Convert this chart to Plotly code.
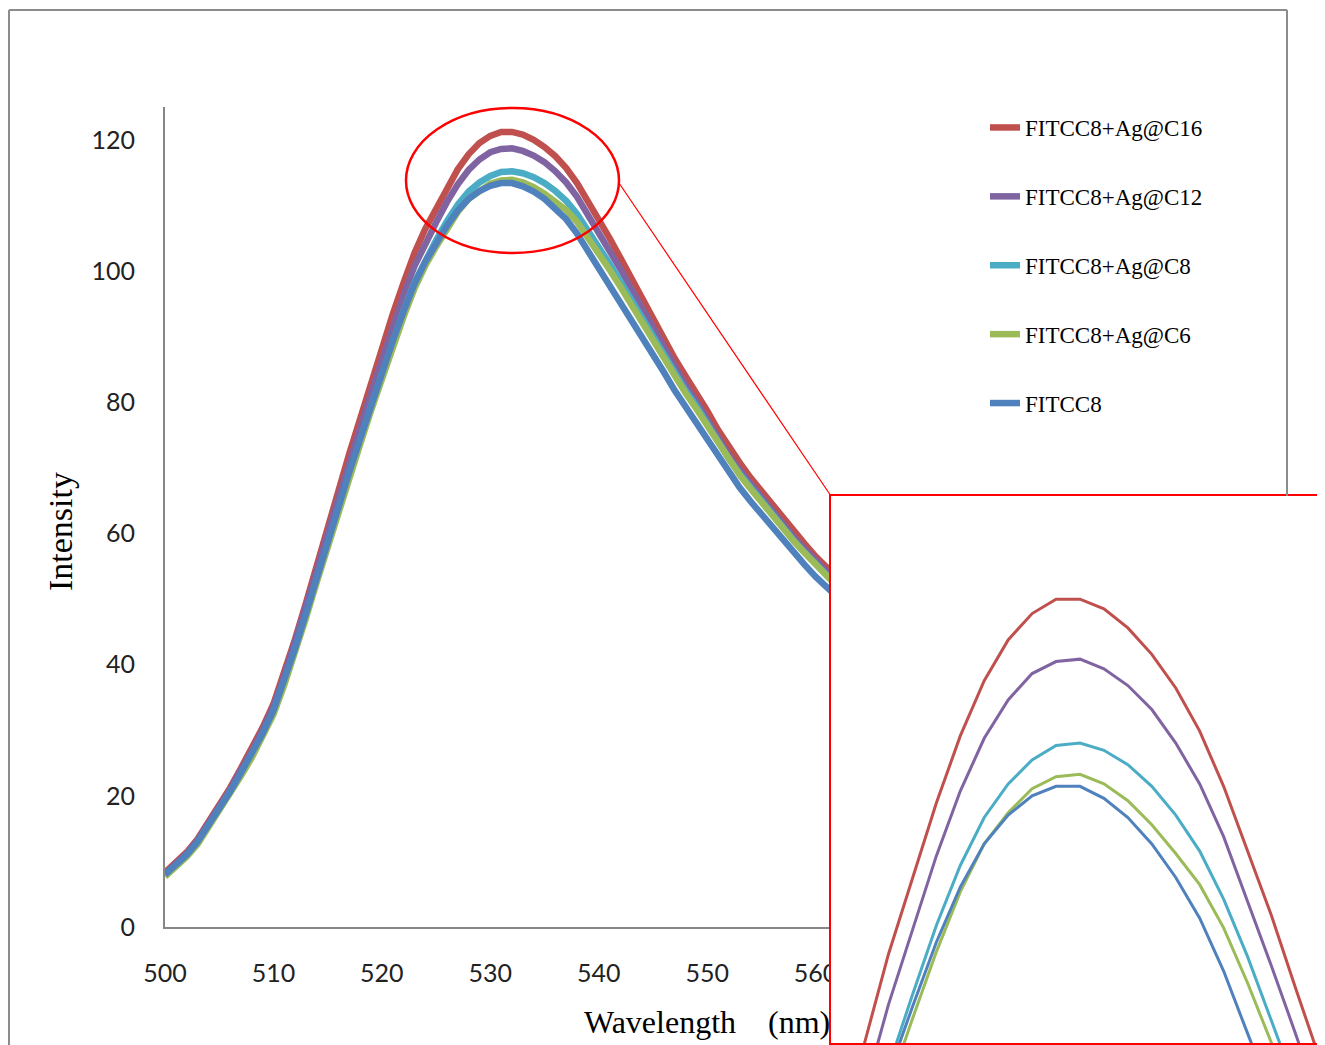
import plotly.graph_objects as go

# ---------------- data ----------------
wavelength = list(range(500, 571))

fitcc8_ag_c16 = [8.3, 9.8, 11.4, 13.4, 16.0, 18.5, 21.2, 24.2, 27.1, 30.4,
                 34.0, 38.7, 43.9, 49.4, 55.2, 61.0, 66.7, 72.2, 77.5, 82.9,
                 88.1, 93.4, 98.2, 102.7, 106.4, 109.6, 112.7, 115.5, 117.8, 119.5,
                 120.6, 121.2, 121.2, 120.8, 120.0, 118.9, 117.5, 115.7, 113.4, 110.7,
                 108.0, 105.0, 102.0, 98.9, 95.9, 92.9, 89.8, 86.7, 84.0, 81.5,
                 78.7, 75.8, 73.1, 70.8, 68.5, 66.4, 64.3, 62.2, 60.2, 58.4,
                 56.5, 54.8, 53.1, 51.6, 50.0, 48.6, 47.1, 45.7, 44.3, 43.0, 41.7]

fitcc8_ag_c12 = [8.1, 9.6, 11.2, 13.2, 15.7, 18.3, 20.9, 23.9, 26.7, 30.0,
                 33.6, 38.2, 43.3, 48.7, 54.3, 60.0, 65.5, 70.9, 76.1, 81.4,
                 86.4, 91.6, 96.3, 100.7, 104.3, 107.4, 110.5, 113.2, 115.4, 117.0,
                 118.1, 118.6, 118.7, 118.3, 117.6, 116.6, 115.2, 113.5, 111.3, 108.6,
                 105.9, 103.1, 100.3, 97.3, 94.4, 91.5, 88.4, 85.3, 82.6, 80.1,
                 77.3, 74.5, 71.9, 69.6, 67.5, 65.4, 63.4, 61.4, 59.4, 57.6,
                 55.8, 54.1, 52.5, 51.0, 49.4, 48.0, 46.6, 45.1, 43.8, 42.5, 41.2]

fitcc8_ag_c8 = [7.8, 9.3, 10.8, 12.8, 15.3, 17.8, 20.3, 23.2, 26.0, 29.2,
                32.7, 37.2, 42.2, 47.5, 53.0, 58.5, 63.9, 69.2, 74.2, 79.4,
                84.3, 89.3, 93.9, 98.2, 101.7, 104.7, 107.6, 110.1, 112.1, 113.5,
                114.5, 115.1, 115.2, 114.9, 114.3, 113.4, 112.2, 110.7, 108.7, 106.3,
                103.7, 101.1, 98.4, 95.6, 92.9, 90.2, 87.3, 84.4, 81.8, 79.4,
                76.7, 73.9, 71.4, 69.1, 67.0, 64.9, 62.9, 60.9, 58.9, 57.1,
                55.3, 53.7, 52.0, 50.5, 49.0, 47.5, 46.1, 44.7, 43.3, 42.0, 40.8]

fitcc8_ag_c6 = [7.7, 9.2, 10.7, 12.6, 15.1, 17.6, 20.1, 23.0, 25.8, 28.9,
                32.4, 36.9, 41.8, 47.1, 52.6, 58.0, 63.4, 68.6, 73.6, 78.7,
                83.5, 88.5, 93.0, 97.3, 100.8, 103.7, 106.5, 109.0, 111.0, 112.3,
                113.3, 113.8, 113.9, 113.5, 112.8, 111.8, 110.6, 109.3, 107.5, 105.2,
                102.7, 100.2, 97.6, 94.9, 92.3, 89.6, 86.8, 83.9, 81.4, 79.0,
                76.4, 73.7, 71.1, 68.9, 66.8, 64.7, 62.7, 60.7, 58.8, 57.0,
                55.2, 53.5, 51.9, 50.4, 48.9, 47.4, 46.0, 44.6, 43.3, 41.9, 40.7]

fitcc8 = [8.0, 9.5, 11.0, 13.0, 15.5, 18.0, 20.6, 23.5, 26.3, 29.5,
          33.0, 37.5, 42.5, 47.8, 53.3, 58.8, 64.2, 69.4, 74.4, 79.5,
          84.3, 89.3, 93.8, 98.0, 101.4, 104.2, 106.9, 109.2, 111.0, 112.2,
          113.0, 113.4, 113.4, 112.9, 112.1, 111.0, 109.6, 107.9, 105.7, 103.1,
          100.5, 97.9, 95.3, 92.6, 90.0, 87.4, 84.6, 81.8, 79.3, 77.0,
          74.4, 71.7, 69.2, 67.0, 64.9, 62.9, 60.9, 58.9, 57.0, 55.2,
          53.4, 51.8, 50.2, 48.7, 47.2, 45.8, 44.4, 43.0, 41.7, 40.4, 39.2]

series_names = ["FITCC8+Ag@C16", "FITCC8+Ag@C12", "FITCC8+Ag@C8", "FITCC8+Ag@C6", "FITCC8"]
series_values = [fitcc8_ag_c16, fitcc8_ag_c12, fitcc8_ag_c8, fitcc8_ag_c6, fitcc8]
series_colors = ["#C0504D", "#8064A2", "#4BACC6", "#9BBB59", "#4F81BD"]

x_ticks = [500, 510, 520, 530, 540, 550, 560, 570]
y_ticks = [0, 20, 40, 60, 80, 100, 120]

# ---------------- figure ----------------
W, H = 1325, 1045
OFF = 8  # the page body adds an 8px margin


def fx(p):
    return (p - OFF) / W


def fy(p):
    return 1 - (p - OFF) / H


fig = go.Figure()

for name, vals, col in zip(series_names, series_values, series_colors):
    fig.add_trace(go.Scatter(
        x=wavelength, y=vals, mode="lines", name=name, legendgroup=name,
        line=dict(color=col, width=6.5), xaxis="x", yaxis="y"))

for name, vals, col in zip(series_names, series_values, series_colors):
    fig.add_trace(go.Scatter(
        x=wavelength, y=vals, mode="lines", name=name, showlegend=False,
        line=dict(color=col, width=3), xaxis="x2", yaxis="y2", hoverinfo="skip"))

tick_font = dict(family="Lato, Open Sans, sans-serif", size=25, color="#222222")
serif = "Liberation Serif, Times New Roman, serif"

fig.update_layout(
    width=W, height=H,
    margin=dict(l=0, r=0, t=0, b=0, pad=0),
    paper_bgcolor="white", plot_bgcolor="white",
    showlegend=True,
    xaxis=dict(domain=[fx(165), fx(924)], range=[500, 570], anchor="y",
               tickvals=x_ticks, ticks="", showgrid=False, zeroline=False,
               showline=True, linecolor="#868686", linewidth=2,
               tickfont=tick_font, ticklabelstandoff=23, automargin=False),
    yaxis=dict(domain=[fy(927), fy(107)], range=[0, 125], anchor="x",
               tickvals=y_ticks, ticks="", showgrid=False, zeroline=False,
               showline=True, linecolor="#868686", linewidth=2,
               tickfont=tick_font, ticklabelstandoff=23, automargin=False),
    xaxis2=dict(domain=[fx(831), fx(1317)], range=[521.6, 541.9], anchor="y2",
                showticklabels=False, ticks="", showgrid=False, zeroline=False,
                showline=True, mirror=True, linecolor="#FF0000", linewidth=2),
    yaxis2=dict(domain=[fy(1043), fy(496)], range=[102.7, 125.5], anchor="x2",
                showticklabels=False, ticks="", showgrid=False, zeroline=False,
                showline=True, mirror=True, linecolor="#FF0000", linewidth=2),
    legend=dict(x=fx(985), y=fy(106), xanchor="left", yanchor="top",
                font=dict(family=serif, size=23, color="#000000"),
                bgcolor="rgba(0,0,0,0)", tracegroupgap=36, itemwidth=30),
    annotations=[
        dict(text="Wavelength\u3000(nm)", xref="paper", yref="paper",
             x=fx(707), y=fy(1022), showarrow=False, xanchor="center", yanchor="middle",
             font=dict(family=serif, size=32, color="#000000")),
        dict(text="Intensity", xref="paper", yref="paper", textangle=-90,
             x=fx(60), y=fy(532), showarrow=False, xanchor="center", yanchor="middle",
             font=dict(family=serif, size=34, color="#000000")),
    ],
    shapes=[
        # outer chart frame
        dict(type="line", xref="paper", yref="paper", x0=fx(9), x1=fx(1287), y0=fy(10), y1=fy(10),
             line=dict(color="#8C8C8C", width=2)),
        dict(type="line", xref="paper", yref="paper", x0=fx(9), x1=fx(9), y0=fy(10), y1=0,
             line=dict(color="#8C8C8C", width=2)),
        dict(type="line", xref="paper", yref="paper", x0=fx(1287), x1=fx(1287), y0=fy(10), y1=fy(496),
             line=dict(color="#8C8C8C", width=2)),
        # highlight ellipse around the peak
        dict(type="circle", xref="paper", yref="paper", x0=fx(406), x1=fx(619), y0=fy(253), y1=fy(108),
             line=dict(color="#FF0000", width=2.5), layer="above"),
        # connector to the zoom inset
        dict(type="line", xref="paper", yref="paper", x0=fx(619), x1=fx(831), y0=fy(183), y1=fy(496),
             line=dict(color="#FF0000", width=1.2), layer="above"),
    ],
)

fig.write_html("out.html")
